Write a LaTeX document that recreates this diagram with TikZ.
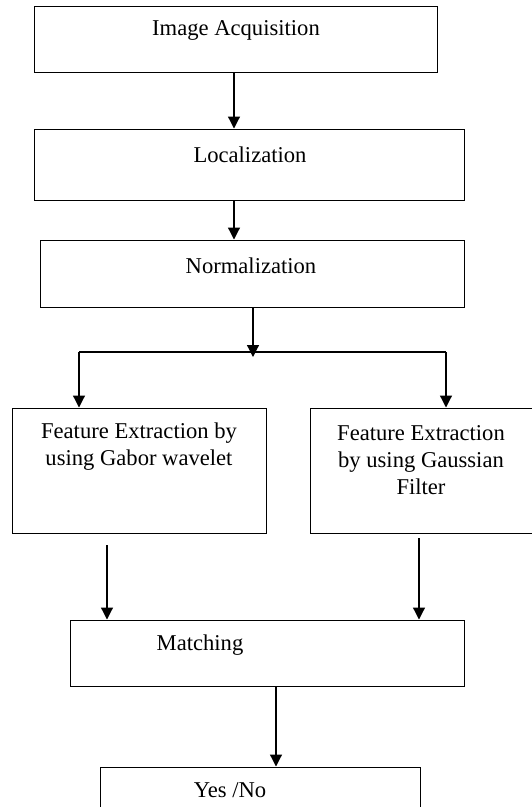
\documentclass[tikz,border=0pt]{standalone}
\usepackage{fontspec}
\setmainfont{Liberation Serif}
\usetikzlibrary{arrows.meta}

\begin{document}
\begin{tikzpicture}[x=1pt, y=-1pt,
    box/.style={draw, line width=1pt, inner sep=0pt},
    txt/.style={font=\fontsize{22.6}{27}\selectfont, align=center, inner sep=0pt},
    arr/.style={line width=1.2pt, -{Triangle[width=12pt,length=12pt]}}]

    \useasboundingbox (0,0) rectangle (532,807);

    % Image Acquisition
    \node[box, minimum width=403pt, minimum height=66pt] (acq) at (235.5,39) {};
    \node[txt] (acqtxt) at (236,30) {Image Acquisition};

    % Localization
    \node[box, minimum width=430pt, minimum height=71pt] (loc) at (249,164.5) {};
    \node[txt] (loctxt) at (250,155) {Localization};

    % Normalization
    \node[box, minimum width=424pt, minimum height=67pt] (norm) at (252,273.5) {};
    \node[txt] (normtxt) at (251,266) {Normalization};

    % Feature extraction, Gabor wavelet
    \node[box, minimum width=254pt, minimum height=125pt] (gabor) at (139,470.5) {};
    \node[txt] (gabortxt) at (139,447) {Feature Extraction by\\using Gabor wavelet};

    % Feature extraction, Gaussian filter
    \node[box, minimum width=226pt, minimum height=125pt] (gauss) at (423,470.5) {};
    \node[txt] (gausstxt) at (421,460) {Feature Extraction\\by using Gaussian\\Filter};

    % Matching
    \node[box, minimum width=394pt, minimum height=66pt] (match) at (267,653) {};
    \node[txt] (matchtxt) at (200,645) {Matching};

    % Yes /No
    \node[box, minimum width=320pt, minimum height=66pt] (yesno) at (260,800) {};
    \node[txt] (yesnotxt) at (230,790) {Yes /No};

    % connectors
    \coordinate (split) at (253,357);
    \coordinate (lbend) at (79,352);
    \coordinate (rbend) at (446,352);
    \coordinate (gstart) at (107,545);
    \coordinate (fstart) at (419,538);

    \draw[arr] ([xshift=-1.5pt]acq.south) -- ([xshift=-1.5pt]acq.south |- loc.north);
    \draw[arr] ([xshift=-1.5pt]acq.south |- loc.south) -- ([xshift=-1.5pt]acq.south |- norm.north);
    \draw[arr] ([xshift=1pt]norm.south) -- (split);
    \draw[line width=1.2pt] (lbend) -- (rbend);
    \draw[arr] (lbend) -- (lbend |- gabor.north);
    \draw[arr] (rbend) -- (rbend |- gauss.north);
    \draw[arr] (gstart) -- (gstart |- match.north);
    \draw[arr] (fstart) -- (fstart |- match.north);
    \draw[arr] ([xshift=9pt]match.south) -- ([xshift=9pt]match.south |- yesno.north);

\end{tikzpicture}
\end{document}
